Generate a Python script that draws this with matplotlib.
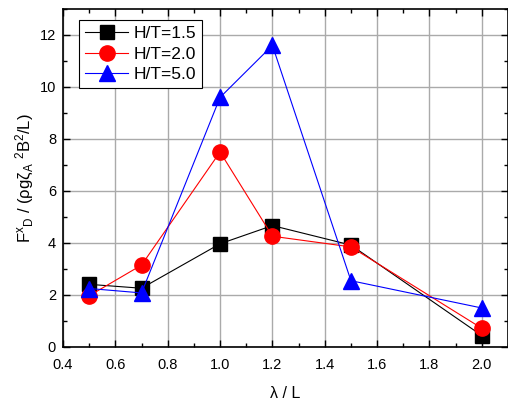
import matplotlib
matplotlib.use("Agg")
import matplotlib.pyplot as plt
from matplotlib.ticker import MultipleLocator

plt.rcParams['font.family'] = ['Liberation Sans', 'DejaVu Sans']
plt.rcParams['mathtext.fontset'] = 'custom'
plt.rcParams['mathtext.rm'] = 'Liberation Sans'
plt.rcParams['mathtext.it'] = 'Liberation Sans'
plt.rcParams['mathtext.default'] = 'regular'

wavelength = [0.5, 0.7, 1.0, 1.2, 1.5, 2.0]
ht_15 = [2.41, 2.26, 3.97, 4.67, 3.92, 0.44]
ht_20 = [1.97, 3.15, 7.5, 4.26, 3.85, 0.72]
ht_50 = [2.25, 2.08, 9.6, 11.6, 2.55, 1.5]
labels = ['H/T=1.5', 'H/T=2.0', 'H/T=5.0']

fig = plt.figure(figsize=(5.08, 4.01), dpi=100)
ax = fig.add_axes([63/508, 54/401, 445/508, 338/401])

ax.plot(wavelength, ht_15, color='black', marker='s', markersize=9.5, lw=0.8, label=labels[0], zorder=3)
ax.plot(wavelength, ht_20, color='red', marker='o', markersize=11, lw=0.8, label=labels[1], zorder=3)
ax.plot(wavelength, ht_50, color='blue', marker='^', markersize=11, lw=0.8, label=labels[2], zorder=3)

ax.set_xlim(0.4, 2.1)
ax.set_ylim(0, 13)
ax.xaxis.set_minor_locator(MultipleLocator(0.1))
ax.yaxis.set_minor_locator(MultipleLocator(1))
ax.set_xticks([0.4, 0.6, 0.8, 1.0, 1.2, 1.4, 1.6, 1.8, 2.0])
ax.set_xticklabels(['0.4', '0.6', '0.8', '1.0', '1.2', '1.4', '1.6', '1.8', '2.0'])
ax.set_yticks([0, 2, 4, 6, 8, 10, 12])
ax.grid(True, which='major', color='#aaaaaa', lw=1.0, zorder=0)
ax.tick_params(which='both', direction='in', top=True, right=True, labelsize=10.5, width=1.0)
ax.tick_params(which='major', length=5)
ax.tick_params(which='minor', length=3)
ax.tick_params(axis='x', which='major', pad=8)
ax.tick_params(axis='y', which='major', pad=5)
for s in ax.spines.values():
    s.set_linewidth(1.2)

ax.set_xlabel('λ / L', fontsize=11.5, labelpad=10)
ax.set_ylabel(r'F$^x$$_D$ / (ρgζ$_A$ $^2$B$^2$/L)', fontsize=12, labelpad=3)

leg = ax.legend(loc='upper left', bbox_to_anchor=(0.036, 0.967), borderaxespad=0, fontsize=12.5,
                frameon=True, fancybox=False, edgecolor='black', framealpha=1,
                borderpad=0.35, handlelength=2.5, handletextpad=0.3, labelspacing=0.3)
leg.get_frame().set_linewidth(0.8)

fig.savefig('out.png', dpi=100)
